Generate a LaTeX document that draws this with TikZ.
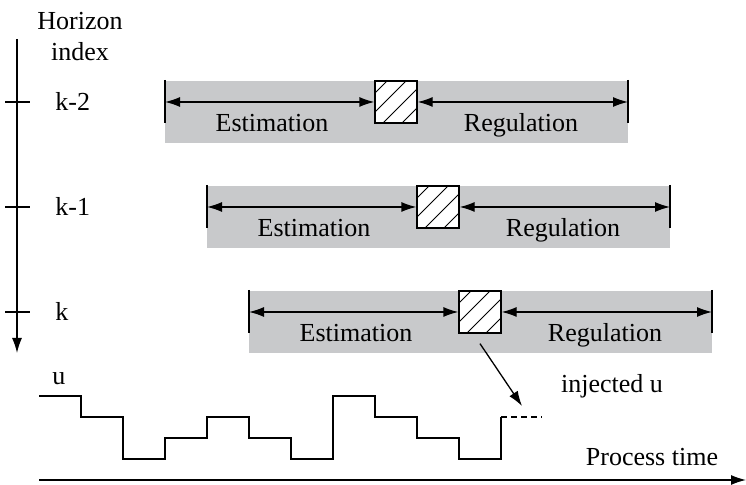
\documentclass[tikz,border=0pt]{standalone}
\usepackage{fontspec}
\setmainfont{Liberation Serif}
\usetikzlibrary{arrows.meta,calc}
\definecolor{bandgray}{RGB}{200,201,203}

\begin{document}
\begin{tikzpicture}[x=0.5pt,y=-0.5pt,
    every node/.style={font=\fontsize{13}{15.5}\selectfont,inner sep=0pt},
    line/.style={line width=0.65pt},
    bar/.style={line width=1pt},
    tip/.style={-{Latex[length=7.5pt,width=5pt]}},
    twotip/.style={{Latex[length=7.5pt,width=5pt]}-{Latex[length=7.5pt,width=5pt]}},
    cell/.style={draw,line width=0.65pt,minimum size=21pt}]
\useasboundingbox (0,0) rectangle (746,485);

% horizon axis
\node[align=center] (title) at (80,37) {Horizon\\index};
\coordinate (top) at (17,39);
\coordinate (bottom) at (17,353);
\draw[line,tip] (top) -- (bottom);

\foreach \i/\lab [evaluate=\i as \x using 165+42*\i,
                  evaluate=\i as \y using 81+105*\i] in {0/k-2,1/k-1,2/k}{
  \fill[bandgray] (\x,\y) rectangle ++(463,62);
  \coordinate (left\i) at (\x,\y+21);
  \coordinate (right\i) at (\x+463,\y+21);
  \node[cell] (box\i) at (\x+231,\y+21) {};
  \begin{scope}
    \clip (box\i.south west) rectangle (box\i.north east);
    \fill[white] (box\i.south west) rectangle (box\i.north east);
    \foreach \d in {-30,-11,8,27}
      \draw[line width=0.4pt] ($(box\i.south west)+(\d,0)$) -- ++(50,-50);
  \end{scope}
  \node[cell] at (box\i) {};
  \draw[bar] ($(left\i)+(0,-22)$) -- ($(left\i)+(0,21)$);
  \draw[bar] ($(right\i)+(0,-22)$) -- ($(right\i)+(0,21)$);
  \draw[line,twotip] (left\i) -- (box\i.west);
  \draw[line,twotip] (box\i.east) -- (right\i);
  \node[anchor=base] (est\i) at (\x+107,\y+51) {Estimation};
  \node[anchor=base] (reg\i) at (\x+356,\y+51) {Regulation};
  \coordinate (tick\i) at (17,\y+21);
  \draw[line] ($(tick\i)+(-12,0)$) -- ($(tick\i)+(13,0)$);
  \node[anchor=west] (lab\i) at (55,\y+20) {\lab};
}

% control signal
\node[anchor=base] (u) at (59,385) {u};
\draw[line] (39,396) -- (81,396) -- (81,417) -- (123,417) -- (123,459)
  -- (165,459) -- (165,438) -- (207,438) -- (207,417) -- (249,417)
  -- (249,438) -- (291,438) -- (291,459) -- (333,459) -- (333,396)
  -- (375,396) -- (375,417) -- (417,417) -- (417,438) -- (459,438)
  -- (459,459) -- (501,459) -- (501,417) coordinate (now);
\draw[line,dash pattern=on 3pt off 2pt] (now) -- ++(41,0);
\coordinate (inj) at (522,406);
\draw[line,tip] ($(box2.south)+(0,10)$) -- (inj);
\node[anchor=base] (injlab) at (612,393) {injected u};

% process time axis
\coordinate (t0) at (39,480);
\coordinate (t1) at (746,480);
\draw[line,tip] (t0) -- (t1);
\node[anchor=base] (ptime) at (652,466) {Process time};
\end{tikzpicture}
\end{document}
